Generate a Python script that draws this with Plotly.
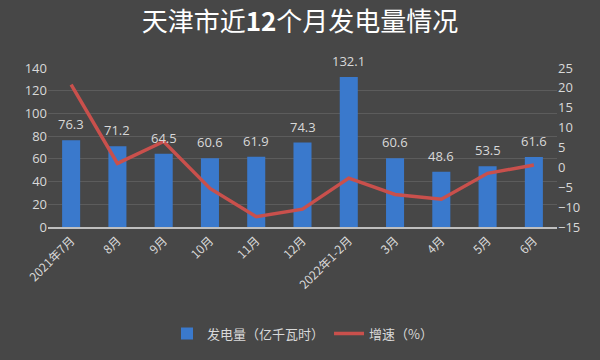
import plotly.graph_objects as go

categories = ["2021年7月", "8月", "9月", "10月", "11月", "12月", "2022年1-2月", "3月", "4月", "5月", "6月"]
generation = [76.3, 71.2, 64.5, 60.6, 61.9, 74.3, 132.1, 60.6, 48.6, 53.5, 61.6]
growth = [20.8, 1.0, 6.5, -5.3, -12.4, -10.5, -2.7, -6.8, -8.0, -1.5, 0.6]

font_cjk = "Noto Sans CJK SC, Noto Sans, sans-serif"
txt = "#d9d9d9"

fig = go.Figure()
fig.add_trace(go.Bar(
    x=categories, y=generation, name="发电量（亿千瓦时）",
    marker=dict(color="#3a79cc", line=dict(width=0)),
    yaxis="y", hoverinfo="skip",
))
fig.add_trace(go.Scatter(
    x=categories, y=growth, name="增速（%）", mode="lines",
    line=dict(color="#c9504c", width=3.5),
    yaxis="y2", hoverinfo="skip",
))

for c, v in zip(categories, generation):
    fig.add_annotation(x=c, y=v, xref="x", yref="y", text=f"{v:.1f}",
                       showarrow=False, yanchor="bottom", yshift=5,
                       font=dict(family="Open Sans, sans-serif", size=13, color=txt))

fig.update_layout(
    width=600, height=360,
    paper_bgcolor="#474747", plot_bgcolor="rgba(0,0,0,0)",
    margin=dict(l=48, r=43, t=68, b=133),
    title=dict(text="天津市近<b>12</b>个月发电量情况", x=0.5, xanchor="center",
               y=0.94, yanchor="middle",
               font=dict(family=font_cjk, size=26, color="#ffffff")),
    bargap=0.61,
    showlegend=True,
    legend=dict(orientation="h", x=0.5, xanchor="center", y=-0.67, yanchor="middle",
                font=dict(family=font_cjk, size=13, color=txt),
                bgcolor="rgba(0,0,0,0)"),
    xaxis=dict(type="category", tickangle=-45, showgrid=False, ticks="", automargin=False,
               tickfont=dict(family=font_cjk, size=12, color=txt),
               showline=True, linecolor="#bfbfbf", linewidth=2, zeroline=False),
    yaxis=dict(range=[0, 140], dtick=20, showgrid=True, gridcolor="#5c5c5c", gridwidth=1,
               zeroline=False, ticks="", showline=False, automargin=False,
               tickfont=dict(family="Open Sans, sans-serif", size=13, color=txt)),
    yaxis2=dict(range=[-15, 25], dtick=5, overlaying="y", side="right", showgrid=False,
                zeroline=False, ticks="", showline=False, automargin=False,
                tickfont=dict(family="Open Sans, sans-serif", size=13, color=txt)),
)

fig.write_html("out.html", config={"displayModeBar": False},
               post_script="document.body.style.margin='0';document.body.style.background='#474747';")
